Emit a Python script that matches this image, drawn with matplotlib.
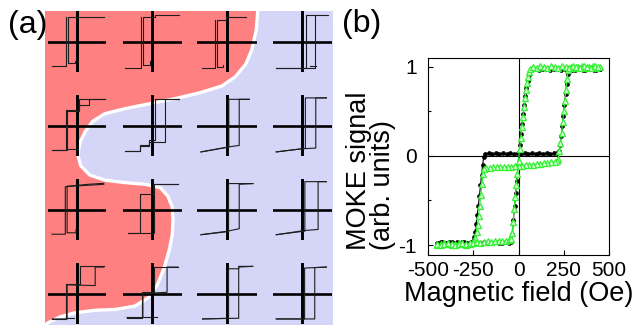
import matplotlib
matplotlib.use("Agg")
import matplotlib.pyplot as plt

plt.rcParams['axes.unicode_minus'] = False

# colours of the two domains in the map
RED = '#ff8080'
BLUE = '#d5d5f8'
GREEN = '#33f033'

# domain wall in the map, in units of the loop grid (x = column, y = row)
wall_x = [2.41, 2.39, 2.33, 2.25, 2.11, 1.93, 1.64, 1.31, 0.97, 0.64, 0.37, 0.21,
          0.11, 0.04, 0.01, 0.05, 0.17, 0.37, 0.64, 0.91, 1.11, 1.21, 1.27, 1.28,
          1.27, 1.23, 1.16, 1.07, 0.95, 0.77, 0.51, 0.24, -0.03, -0.23, -0.39, -0.44]
wall_y = [-0.36, -0.14, 0.10, 0.27, 0.42, 0.53, 0.61, 0.68, 0.74, 0.80, 0.86, 0.95,
          1.07, 1.20, 1.35, 1.48, 1.59, 1.65, 1.68, 1.70, 1.74, 1.84, 1.97, 2.13,
          2.30, 2.48, 2.70, 2.90, 3.05, 3.15, 3.19, 3.20, 3.23, 3.28, 3.35, 3.39]

# local Kerr loops on the 4x4 grid, traces of (h, m) vertices, one list per row
row0 = [
    [[(1.05, 1.0), (-0.35, 1.0), (-0.35, -0.9), (-0.08, -0.9), (-0.08, -0.83), (0.0, -0.83)],
     [(-0.96, -1.0), (-0.41, -1.0), (-0.41, 1.0)]],
    [[(1.03, 1.1), (0.13, 1.1), (0.13, 1.0), (-0.35, 1.0), (-0.35, -0.97), (-0.06, -0.97), (-0.06, -0.83)],
     [(-1.03, -1.1), (-0.41, -1.1), (-0.41, 1.0)]],
    [[(0.73, 1.0), (-0.04, 1.0), (-0.04, 0.9), (-0.40, 0.9), (-0.40, -1.08), (-0.17, -1.08), (-0.17, -0.97)],
     [(-0.96, -1.1), (-0.45, -1.1), (-0.45, 0.9)]],
    [[(1.0, 1.1), (0.14, 1.1), (0.14, -1.1), (-0.99, -1.1)],
     [(-0.99, -1.1), (0.49, -1.1), (0.49, 1.1)],
     [(0.3, -1.0), (0.55, -1.0)]],
]
row1 = [
    [[(1.09, 1.09), (0.06, 1.09), (0.06, 0.63), (-0.42, 0.63), (-0.42, -1.03), (-0.96, -1.03)],
     [(-0.96, -1.03), (-0.38, -1.03), (-0.38, 0.6), (0.06, 0.6), (0.06, 0.87), (0.45, 0.87), (0.45, 1.09), (1.09, 1.09)],
     [(-0.38, -0.97), (0.0, -0.97)]],
    [[(1.03, 1.09), (0.13, 1.09), (0.13, -0.62), (-0.13, -0.62), (-0.13, -0.83), (-0.45, -0.83), (-0.45, -1.08), (-1.03, -1.08)],
     [(-1.03, -1.08), (-0.45, -1.08), (-0.45, -0.85), (-0.13, -0.85), (-0.13, -0.68), (0.49, -0.68), (0.49, 1.09), (1.03, 1.09)]],
    [[(0.86, 1.09), (0.07, 1.09), (0.07, -0.9), (-1.0, -1.1)],
     [(-1.0, -1.1), (0.0, -0.9), (0.47, -0.83), (0.47, 1.09), (0.86, 1.09)]],
    [[(0.94, 1.15), (0.13, 1.15), (0.13, -0.95), (-0.99, -1.1)],
     [(-0.99, -1.1), (0.0, -0.97), (0.53, -0.94), (0.53, 1.15), (0.94, 1.15)]],
]
row2 = [
    [[(1.03, 1.09), (0.45, 1.05), (-0.05, 1.0), (-0.38, 0.97), (-0.38, -0.97), (-0.04, -0.97), (-0.04, -0.83)],
     [(-0.96, -1.03), (-0.45, -1.03), (-0.45, 0.95), (0.0, 0.98), (1.03, 1.05)]],
    [[(1.0, 1.06), (0.06, 1.06), (0.06, -0.98), (-0.92, -0.98)],
     [(-0.92, -0.98), (-0.46, -0.98), (-0.46, 0.65), (0.04, 0.65), (0.04, 1.06), (1.0, 1.06)]],
    [[(1.0, 1.08), (0.06, 1.08), (0.06, -0.92), (-1.0, -1.05)],
     [(-1.0, -1.05), (0.03, -0.9), (0.47, -0.8), (0.47, 1.05), (1.0, 1.08)]],
    [[(0.94, 1.16), (0.11, 1.16), (0.11, -0.9), (-0.99, -1.05)],
     [(-0.99, -1.05), (0.05, -0.88), (0.62, -0.83), (0.62, 1.16), (0.94, 1.16)]],
]
row3 = [
    [[(1.03, 1.13), (0.13, 1.13), (0.13, 0.4), (-0.42, 0.4), (-0.42, -1.06), (-0.96, -1.06)],
     [(-0.96, -1.06), (-0.38, -1.06), (-0.38, 0.36), (0.7, 0.33), (0.7, 1.1), (1.03, 1.1)],
     [(-0.38, -1.0), (-0.1, -1.0)]],
    [[(1.0, 1.1), (0.08, 1.1), (0.08, 0.05), (-0.38, 0.05), (-0.38, -1.0), (-0.96, -1.0)],
     [(-0.96, -1.0), (-0.35, -1.0), (-0.35, 0.0), (0.58, 0.05), (0.58, 1.1), (1.0, 1.1)],
     [(-0.35, -0.98), (0.19, -0.98)]],
    [[(0.99, 1.13), (0.45, 1.13), (0.45, 1.03), (0.06, 1.03), (0.06, -1.03), (-0.94, -1.06)],
     [(-0.94, -1.06), (0.45, -1.03), (0.45, 1.1), (0.99, 1.13)]],
    [[(0.94, 1.1), (0.1, 1.06), (0.1, -1.06), (-0.99, -1.06)],
     [(-0.99, -1.06), (0.49, -1.06), (0.49, 1.08), (0.94, 1.1)]],
]
grid_loops = [row0, row1, row2, row3]

# panel (b): averaged MOKE loops, black dots and green triangles
H_black_down = [450, 430, 410, 390, 370, 350, 330, 310, 290, 278,
                272, 266, 260, 254, 248, 242, 236, 230, 224, 215,
                195, 175, 155, 135, 115, 95, 75, 55, 35, 15,
                -5, -25, -45, -65, -85, -105, -125, -145, -165, -185,
                -192, -198, -204, -210, -216, -222, -228, -234, -240, -246,
                -252, -262, -282, -302, -322, -342, -362, -382, -402, -422, -442]
M_black_down = [0.97, 0.96, 0.97, 0.97, 0.96, 0.97, 0.97, 0.96, 0.97, 0.96,
                0.92, 0.81, 0.69, 0.57, 0.45, 0.33, 0.22, 0.12, 0.05, 0.03,
                0.03, 0.02, 0.03, 0.02, 0.03, 0.02, 0.03, 0.02, 0.03, 0.02,
                0.03, 0.02, 0.03, 0.02, 0.03, 0.02, 0.03, 0.02, 0.03, 0.02,
                -0.01, -0.10, -0.21, -0.33, -0.45, -0.56, -0.66, -0.76, -0.85, -0.91,
                -0.95, -0.97, -0.98, -0.97, -0.98, -0.97, -0.98, -0.97, -0.98, -0.97, -0.98]
H_black_up = [-450, -430, -410, -390, -370, -350, -330, -310, -290, -270,
              -250, -230, -210, -190, -170, -150, -130, -110, -90, -70,
              -50, -40, -34, -28, -22, -16, -10, -4, 2, 8,
              14, 20, 26, 32, 38, 44, 50, 56, 62, 75,
              95, 115, 135, 155, 175, 195, 215, 235, 255, 275,
              295, 315, 335, 355, 375, 395, 415, 435, 450]
M_black_up = [-0.98, -0.97, -0.98, -0.98, -0.97, -0.98, -0.98, -0.97, -0.98, -0.98,
              -0.97, -0.98, -0.98, -0.97, -0.98, -0.98, -0.97, -0.98, -0.98, -0.97,
              -0.98, -0.97, -0.88, -0.72, -0.56, -0.42, -0.28, -0.12, 0.02, 0.12,
              0.24, 0.36, 0.47, 0.57, 0.67, 0.76, 0.84, 0.91, 0.95, 0.97,
              0.97, 0.96, 0.97, 0.97, 0.96, 0.97, 0.97, 0.96, 0.97, 0.97,
              0.96, 0.97, 0.97, 0.96, 0.97, 0.97, 0.96, 0.97, 0.97]
H_green_down = [450, 430, 410, 390, 370, 350, 330, 310, 290, 280,
                274, 268, 262, 256, 250, 244, 238, 232, 226, 220,
                214, 200, 180, 160, 140, 120, 100, 80, 60, 40,
                20, 0, -20, -40, -60, -80, -100, -120, -140, -160,
                -180, -190, -196, -202, -208, -214, -220, -226, -232, -238,
                -244, -250, -270, -290, -310, -330, -350, -370, -390, -410, -430, -450]
M_green_down = [1.00, 0.99, 1.01, 1.00, 0.99, 1.01, 1.00, 0.99, 1.00, 0.99,
                0.96, 0.86, 0.74, 0.62, 0.50, 0.38, 0.26, 0.15, 0.05, -0.03,
                -0.06, -0.07, -0.07, -0.08, -0.08, -0.09, -0.09, -0.10, -0.10, -0.10,
                -0.11, -0.11, -0.11, -0.12, -0.12, -0.12, -0.13, -0.13, -0.13, -0.14,
                -0.14, -0.15, -0.20, -0.32, -0.44, -0.56, -0.67, -0.77, -0.85, -0.92,
                -0.96, -0.98, -0.99, -1.00, -0.99, -0.98, -0.99, -1.00, -0.99, -0.98, -0.99, -1.00]
H_green_up = [-450, -430, -410, -390, -370, -350, -330, -310, -290, -270,
              -250, -230, -210, -190, -170, -150, -130, -110, -90, -70,
              -50, -42, -36, -30, -24, -18, -12, -6, 0, 6,
              12, 18, 24, 30, 36, 42, 48, 54, 60, 66,
              80, 100, 120, 140, 160, 180, 200, 220, 240, 260,
              280, 300, 320, 340, 360, 380, 400, 420, 440]
M_green_up = [-0.99, -1.00, -0.99, -0.98, -0.99, -1.00, -0.99, -0.98, -0.99, -0.98,
              -0.98, -0.97, -0.98, -0.97, -0.96, -0.97, -0.96, -0.95, -0.96, -0.95,
              -0.94, -0.93, -0.86, -0.74, -0.60, -0.46, -0.33, -0.20, -0.06, 0.08,
              0.20, 0.32, 0.44, 0.55, 0.65, 0.74, 0.82, 0.89, 0.94, 0.98,
              1.00, 0.99, 1.01, 1.00, 0.99, 1.01, 1.00, 0.99, 1.01, 1.00,
              0.99, 1.01, 1.00, 0.99, 1.01, 1.00, 0.99, 1.01, 1.00]

x_ticks = [-500, -250, 0, 250, 500]
y_ticks = [-1, 0, 1]

FONT = ['Liberation Sans', 'DejaVu Sans']
NARROW = ['Liberation Sans Narrow', 'Liberation Sans', 'DejaVu Sans']

W, HT = 637, 325
fig = plt.figure(figsize=(W / 100, HT / 100), dpi=100)


def px_axes(x0, y0, x1, y1):
    # axes from pixel box (top-left origin)
    return fig.add_axes([x0 / W, 1 - y1 / HT, (x1 - x0) / W, (y1 - y0) / HT])


# ---- panel (a): domain map ----
ax_map = px_axes(45, 11, 333, 325)
ax_map.set_facecolor(BLUE)
ax_map.fill(wall_x + [-0.6, -0.6, 2.41], wall_y + [3.5, -0.5, -0.5], color=RED, lw=0)
ax_map.plot(wall_x, wall_y, color='white', lw=2.4, solid_capstyle='round')
ax_map.set_xlim(-0.427, 3.413)
ax_map.set_ylim(3.375, -0.363)
ax_map.set_xticks([])
ax_map.set_yticks([])
for s in ax_map.spines.values():
    s.set_visible(False)

for r, row in enumerate(grid_loops):
    for c, traces in enumerate(row):
        cx = 77 + 75 * c
        cy = 41.5 + 84 * r
        a = px_axes(cx - 29.5, cy - 30.5, cx + 29.5, cy + 30.5)
        a.patch.set_alpha(0)
        a.axhline(0, color='black', lw=1.9)
        a.axvline(0, color='black', lw=2.1)
        for t in traces:
            a.plot([p[0] for p in t], [p[1] for p in t], color='#1e1e1e', lw=0.8,
                   clip_on=False)
        a.set_xlim(-1.135, 1.135)
        a.set_ylim(-1.27, 1.27)
        a.axis('off')

# ---- panel (b): loops ----
ax = px_axes(428, 58, 609, 255)
ax.axhline(0, color='black', lw=0.8)
ax.axvline(0, color='black', lw=0.8)
for h, m in [(H_black_down, M_black_down), (H_black_up, M_black_up)]:
    ax.plot(h, m, '-o', color='black', lw=0.8, ms=3.4, mew=0)
for h, m in [(H_green_down, M_green_down), (H_green_up, M_green_up)]:
    ax.plot(h, m, '-^', color=GREEN, lw=0.8, ms=5, mfc='#d8ffd8', mec=GREEN, mew=0.9)

ax.set_xlim(-500, 500)
ax.set_ylim(-1.112, 1.098)
ax.set_xticks(x_ticks)
ax.set_yticks(y_ticks)
ax.set_yticks([-0.5, 0.5], minor=True)
ax.tick_params(direction='in', length=3.5, width=0.8, labelsize=15, top=False, right=False)
ax.tick_params(axis='y', which='minor', direction='in', length=2.5, width=0.8)
ax.tick_params(axis='x', pad=4)
ax.tick_params(axis='y', pad=8)
for lab in ax.get_xticklabels() + ax.get_yticklabels():
    lab.set_family(FONT)
for s in ax.spines.values():
    s.set_linewidth(0.8)
ax.set_xlabel('Magnetic field (Oe)', fontsize=19.5, family=FONT, labelpad=1)
fig.text(371 / W, 1 - 250 / HT, 'MOKE signal\n(arb. units)', rotation=90,
         ha='center', va='bottom', multialignment='left', linespacing=0.9,
         fontsize=19.5, family=FONT)

fig.text(28 / W, 1 - 25 / HT, '(a)', ha='center', va='center', fontsize=23,
         family=NARROW)
fig.text(362 / W, 1 - 24 / HT, '(b)', ha='center', va='center', fontsize=23,
         family=NARROW)

fig.savefig('out.png', dpi=100)
